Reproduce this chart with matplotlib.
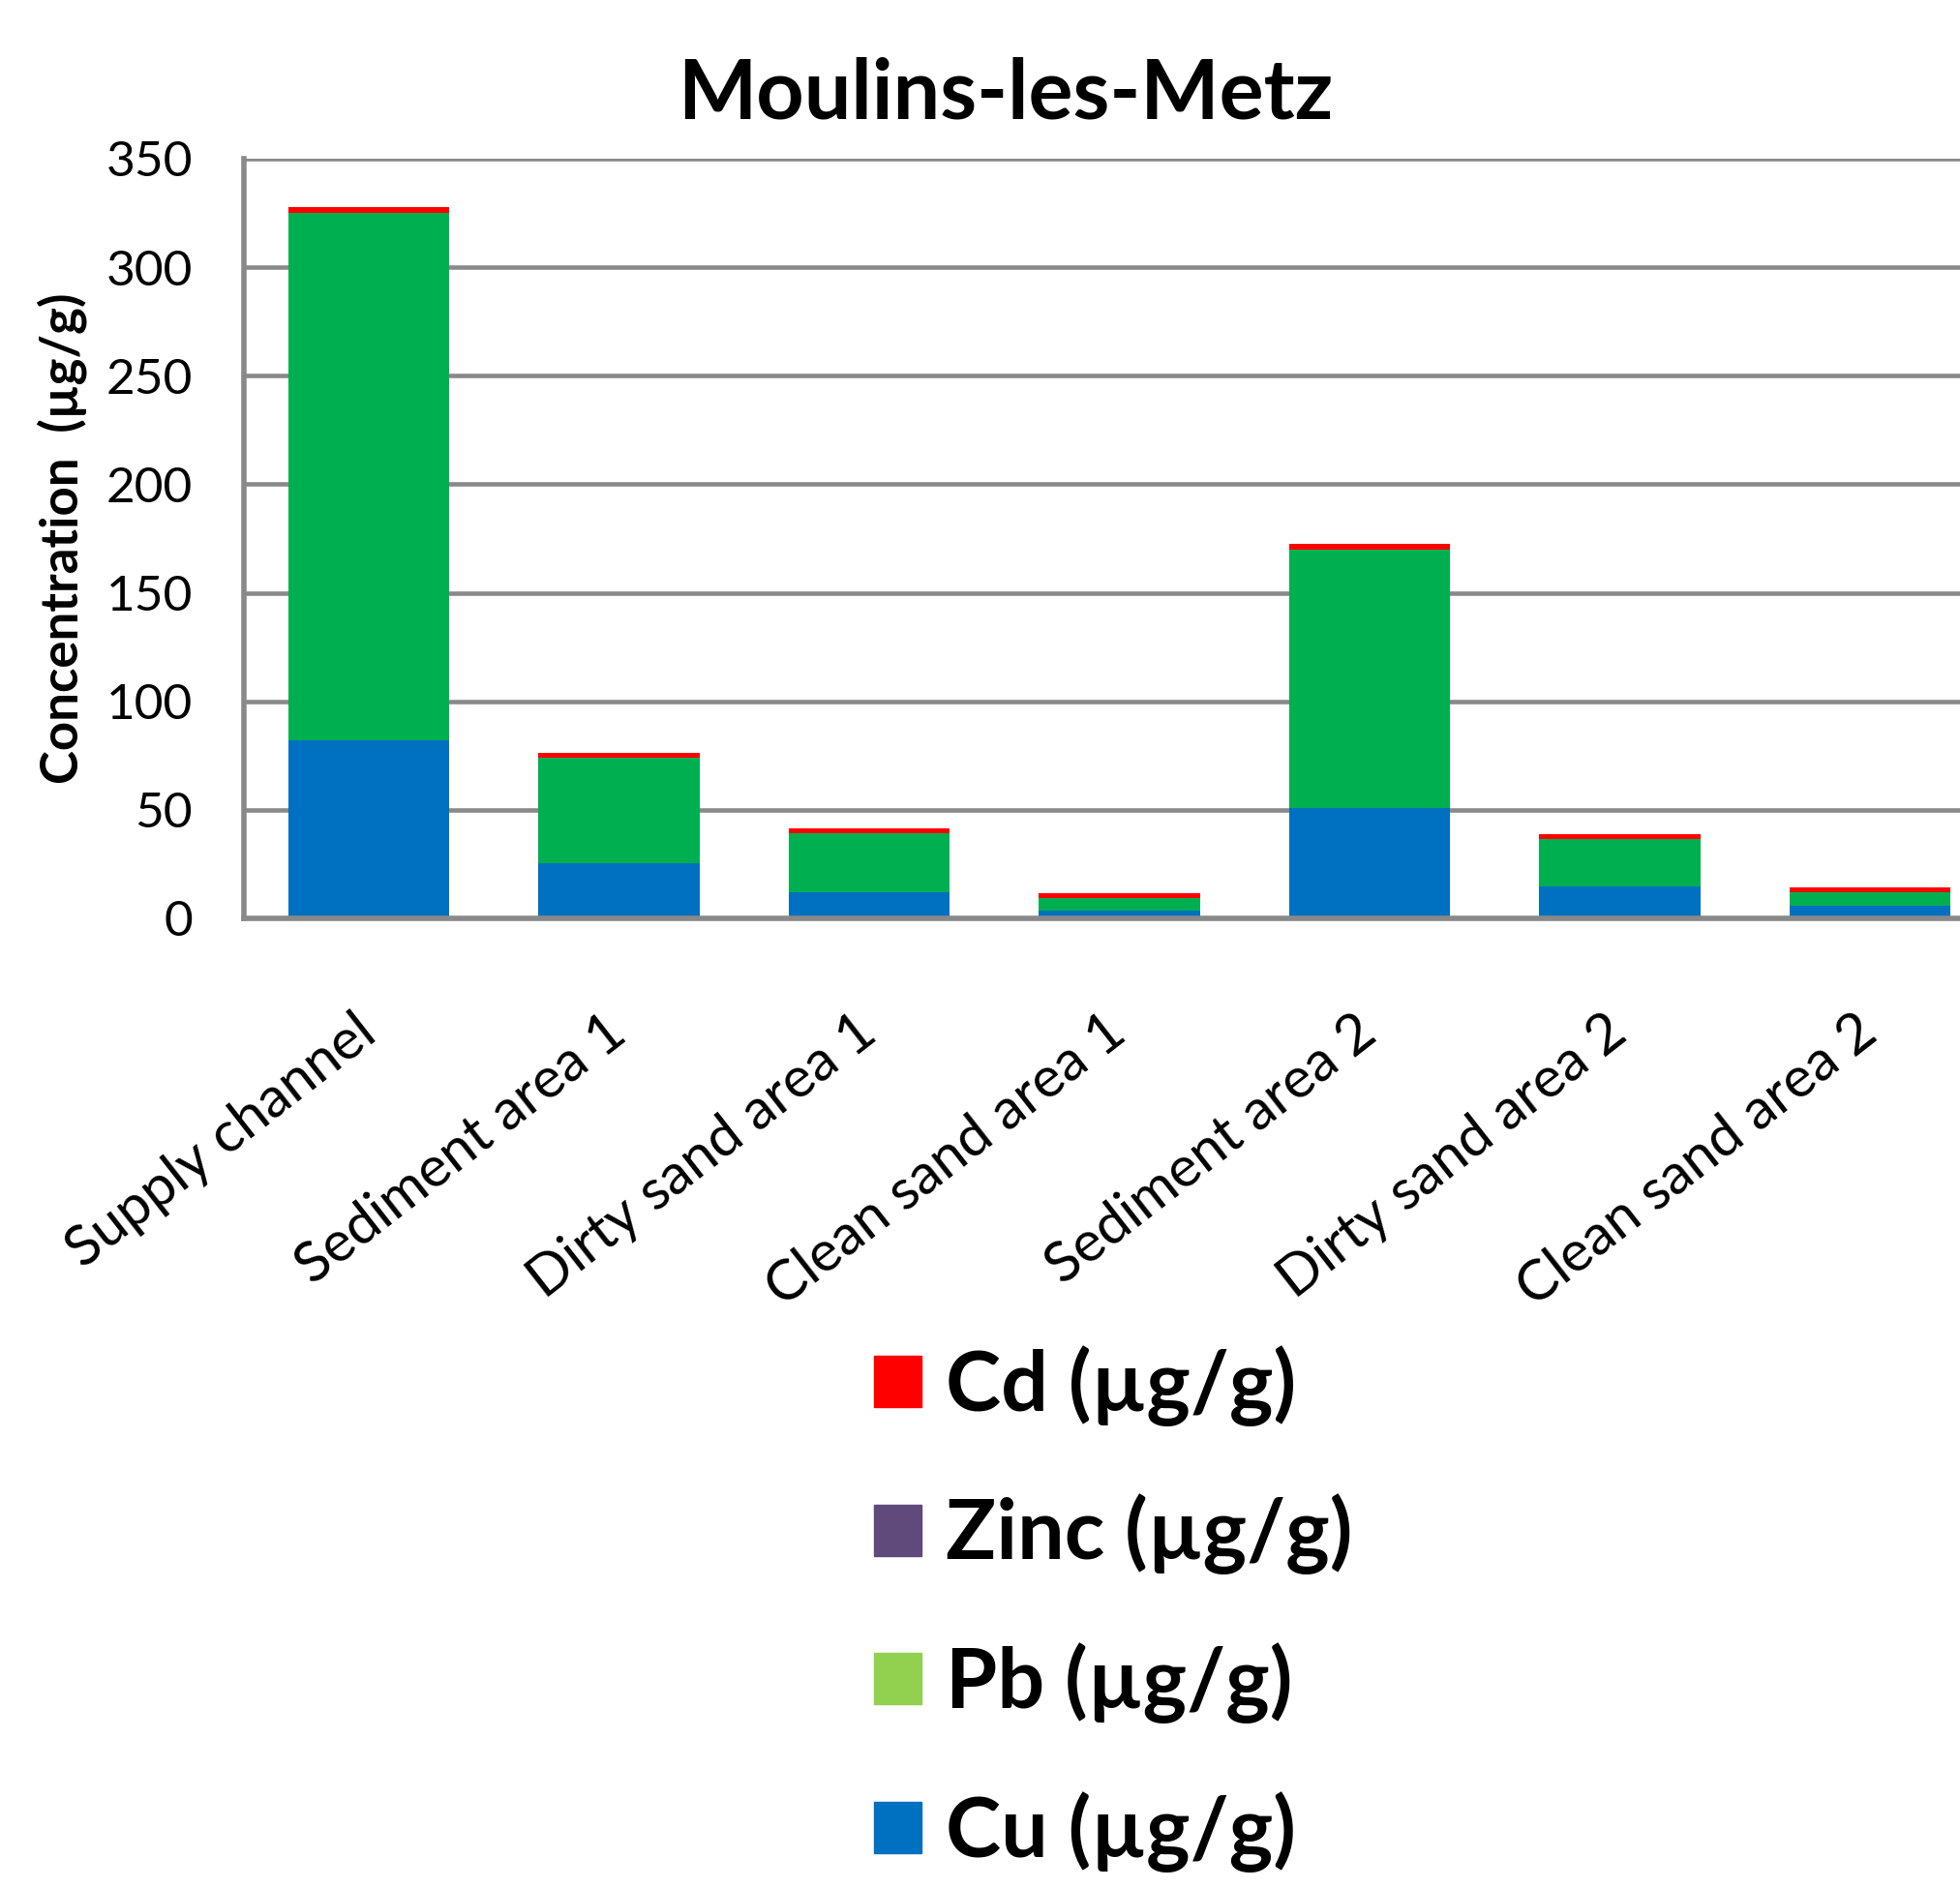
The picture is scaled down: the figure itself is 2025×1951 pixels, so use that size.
import numpy as np
import matplotlib
matplotlib.use("Agg")
import matplotlib.pyplot as plt
from matplotlib.patches import Patch

plt.rcParams['font.family'] = ['Lato', 'DejaVu Sans']

# values (µg/g)
sites = ['Supply channel', 'Sediment area 1', 'Dirty sand area 1', 'Clean sand area 1',
         'Sediment area 2', 'Dirty sand area 2', 'Clean sand area 2']
cu = [82, 25.5, 12, 3.5, 51, 14.5, 6]
green_part = [243, 48.5, 27, 6, 119, 22, 6]
cd = [2.5, 2.3, 2.3, 2.2, 2.3, 2.3, 2.3]

legend_labels = ['Cd (µg/g)', 'Zinc (µg/g)', 'Pb (µg/g)', 'Cu (µg/g)']
legend_colors = ['#FF0000', '#604A7B', '#92D050', '#0070C0']

grid_col = '#898989'

fig = plt.figure(figsize=(20.25, 19.51), dpi=100)
ax = fig.add_axes([0.1244, 0.5136, 0.8756, 0.4024])

x = np.arange(len(sites))
w = 0.645
cu = np.array(cu)
green_part = np.array(green_part)
ax.bar(x, cu, w, color='#0070C0', zorder=3)
ax.bar(x, green_part, w, bottom=cu, color='#00B050', zorder=3)
ax.bar(x, cd, w, bottom=cu + green_part, color='#FF0000', zorder=3)

ax.set_ylim(0, 350)
ax.set_xlim(-0.5, 6.36)
ax.set_yticks(np.arange(0, 351, 50))
ax.yaxis.grid(True, color=grid_col, linewidth=3.3, zorder=0)
ax.set_axisbelow(True)

for s in ['top', 'right']:
    ax.spines[s].set_visible(False)
for s in ['left', 'bottom']:
    ax.spines[s].set_color(grid_col)
    ax.spines[s].set_linewidth(4)
    ax.spines[s].set_zorder(4)

ax.tick_params(axis='y', length=0, pad=38, labelsize=37)
ax.tick_params(axis='x', length=0, pad=80)
ax.set_xticks(x)
ax.set_xticklabels(sites, rotation=38, ha='right', va='center',
                   rotation_mode='anchor', fontsize=42)

ax.set_ylabel('Concentration  (µg/g)', fontsize=38, fontweight='bold', labelpad=14)
ax.set_title('Moulins-les-Metz', fontsize=62, fontweight='bold', pad=30, x=0.444)

handles = [Patch(color=c) for c in legend_colors]
fig.legend(handles, legend_labels, loc='upper left', bbox_to_anchor=(0.446, 0.2875),
           frameon=False, prop={'weight': 'bold', 'size': 62},
           handlelength=0.57, handleheight=0.57, handletextpad=0.29,
           labelspacing=0.81, borderpad=0, borderaxespad=0)

fig.savefig('out.png', dpi=100)
